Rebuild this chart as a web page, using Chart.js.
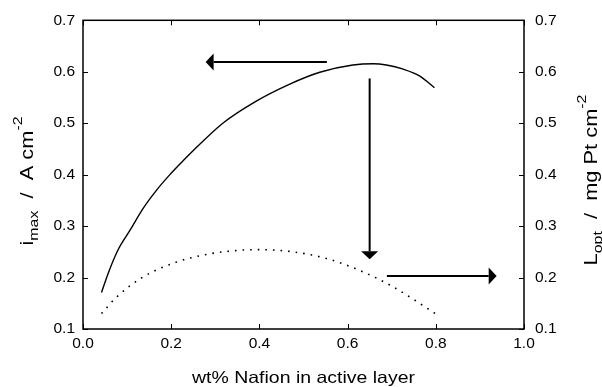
<!DOCTYPE html>
<html><head><meta charset="utf-8">
<script src="https://cdn.jsdelivr.net/npm/chart.js@4.4.1/dist/chart.umd.min.js"></script>
<style>html,body{margin:0;padding:0;background:#fff}#wrap{width:602px;height:387px}</style>
</head><body><div id="wrap"><canvas id="c" width="602" height="387"></canvas></div>
<script>
// Data
const imaxX = [0.042,0.057,0.079,0.106,0.136,0.166,0.197,0.227,0.242,0.317,0.393,0.469,0.537,0.612,0.658,0.688,0.726,0.763,0.797];
const imaxY = [0.171,0.208,0.253,0.291,0.334,0.369,0.400,0.427,0.440,0.500,0.543,0.576,0.599,0.613,0.6155,0.613,0.605,0.592,0.569];
const loptX = [0.042,0.076,0.136,0.212,0.287,0.363,0.401,0.476,0.552,0.627,0.703,0.799];
const loptY = [0.130,0.162,0.201,0.230,0.246,0.2535,0.2542,0.250,0.237,0.214,0.182,0.130];
const xTicks = [0.0,0.2,0.4,0.6,0.8,1.0];
const yTicks = [0.1,0.2,0.3,0.4,0.5,0.6,0.7];
// arrows in data space: [x1,y1,x2,y2] (tip at x2,y2)
const arrows = [[0.553,0.619,0.278,0.619],[0.650,0.587,0.650,0.2355],[0.689,0.203,0.938,0.203]];

const FONT = '"Liberation Sans", Arial, sans-serif';
const mk = (xs, ys) => xs.map((x,i)=>({x, y: ys[i]}));

const decor = {
  id: 'decor',
  afterDraw(chart) {
    const ctx = chart.ctx, xs = chart.scales.x, yl = chart.scales.y, yr = chart.scales.y2;
    const a = chart.chartArea;
    ctx.save();
    ctx.strokeStyle = '#000'; ctx.lineWidth = 1.5;
    ctx.strokeRect(a.left, a.top, a.right - a.left, a.bottom - a.top);
    ctx.lineWidth = 1;
    const tl = 5;
    ctx.beginPath();
    xTicks.forEach(v => { const p = Math.round(xs.getPixelForValue(v))+0.5;
      ctx.moveTo(p, a.bottom); ctx.lineTo(p, a.bottom - tl);
      ctx.moveTo(p, a.top); ctx.lineTo(p, a.top + tl); });
    yTicks.forEach(v => { const p = Math.round(yl.getPixelForValue(v))+0.5;
      ctx.moveTo(a.left, p); ctx.lineTo(a.left + tl, p);
      const q = Math.round(yr.getPixelForValue(v))+0.5;
      ctx.moveTo(a.right, q); ctx.lineTo(a.right - tl, q); });
    ctx.stroke();
    // arrows
    ctx.fillStyle = '#000'; ctx.lineWidth = 2;
    arrows.forEach(([x1,y1,x2,y2]) => {
      const X1 = xs.getPixelForValue(x1), Y1 = yl.getPixelForValue(y1);
      const X2 = xs.getPixelForValue(x2), Y2 = yl.getPixelForValue(y2);
      const ang = Math.atan2(Y2-Y1, X2-X1), L = 8, W = 8.5;
      const bx = X2 - L*Math.cos(ang), by = Y2 - L*Math.sin(ang);
      ctx.beginPath(); ctx.moveTo(X1,Y1); ctx.lineTo(bx,by); ctx.stroke();
      ctx.beginPath(); ctx.moveTo(X2,Y2);
      ctx.lineTo(bx - W*Math.sin(ang), by + W*Math.cos(ang));
      ctx.lineTo(bx + W*Math.sin(ang), by - W*Math.cos(ang));
      ctx.closePath(); ctx.fill();
    });
    // axis titles
    ctx.fillStyle = '#000';
    const drawSub = (main, sub, rest, sup) => {
      const big = '18.5px ' + FONT, small = '13.5px ' + FONT;
      ctx.font = big; const w1 = ctx.measureText(main).width;
      ctx.font = small; const w2 = ctx.measureText(sub).width;
      ctx.font = big; const w3 = ctx.measureText(rest).width;
      ctx.font = small; const w4 = ctx.measureText(sup).width;
      ctx.scale(1.18, 1);
      let x = -(w1+w2+w3+w4)/2;
      ctx.textBaseline = 'alphabetic'; ctx.textAlign = 'left';
      ctx.font = big; ctx.fillText(main, x, 0); x += w1;
      ctx.font = small; ctx.fillText(sub, x, 5); x += w2;
      ctx.font = big; ctx.fillText(rest, x, 0); x += w3;
      ctx.font = small; ctx.fillText(sup, x, -11);
    };
    ctx.save(); ctx.translate(33, 181); ctx.rotate(-Math.PI/2);
    drawSub('i', 'max', '  /  A cm', '-2'); ctx.restore();
    ctx.save(); ctx.translate(597, 180); ctx.rotate(-Math.PI/2);
    drawSub('L', 'opt', '  /  mg Pt cm', '-2'); ctx.restore();
    ctx.save();
    ctx.translate((a.left + a.right)/2, 378); ctx.scale(1.18, 1);
    ctx.font = '16.5px ' + FONT; ctx.textAlign = 'center'; ctx.textBaseline = 'middle';
    ctx.fillText('wt% Nafion in active layer', 0, 0);
    ctx.restore();
    ctx.restore();
  }
};

new Chart(document.getElementById('c'), {
  type: 'scatter',
  data: { datasets: [
    { data: mk(imaxX, imaxY), showLine: true, borderColor: '#000', borderWidth: 1.4, pointRadius: 0, cubicInterpolationMode: 'monotone', yAxisID: 'y' },
    { data: mk(loptX, loptY), showLine: true, borderColor: '#000', borderWidth: 1.6, borderDash: [1.6, 6], pointRadius: 0, cubicInterpolationMode: 'monotone', yAxisID: 'y2' }
  ]},
  options: {
    responsive: false, animation: false,
    layout: { padding: { top: 19, left: 0, right: 0, bottom: 0 } },
    plugins: { legend: { display: false }, tooltip: { enabled: false } },
    scales: {
      x: { type: 'linear', min: 0, max: 1, afterFit: s => { s.height = 58; },
        afterBuildTicks: s => { s.ticks = xTicks.map(v => ({value: v})); },
        grid: { display: false, drawTicks: false }, border: { display: false },
        ticks: { color: '#000', font: { family: FONT, size: 15.5 }, padding: 5, maxRotation: 0, callback: v => v.toFixed(1) } },
      y: { type: 'linear', position: 'left', min: 0.1, max: 0.7, afterFit: s => { s.width = 83; },
        afterBuildTicks: s => { s.ticks = yTicks.map(v => ({value: v})); },
        grid: { display: false, drawTicks: false }, border: { display: false },
        ticks: { color: '#000', font: { family: FONT, size: 15.5 }, padding: 8, callback: v => v.toFixed(1) } },
      y2: { type: 'linear', position: 'right', min: 0.1, max: 0.7, afterFit: s => { s.width = 78; },
        afterBuildTicks: s => { s.ticks = yTicks.map(v => ({value: v})); },
        grid: { display: false, drawTicks: false }, border: { display: false },
        ticks: { color: '#000', font: { family: FONT, size: 15.5 }, padding: 11, callback: v => v.toFixed(1) } }
    }
  },
  plugins: [decor]
});
</script></body></html>
